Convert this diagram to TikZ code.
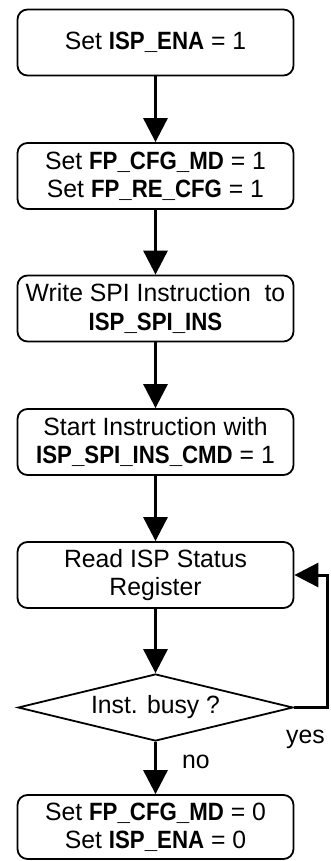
\documentclass[tikz,border=0pt]{standalone}
\usepackage{fontspec}
\setmainfont{Liberation Sans}[FakeStretch=0.99,BoldFeatures={FakeStretch=0.89}]
\usetikzlibrary{arrows.meta,shapes.geometric}
\begin{document}
\begin{tikzpicture}[x=1pt,y=1pt,
  box/.style={draw,line width=1.8pt,rounded corners=10pt,minimum width=276pt,minimum height=66pt,
    align=center,inner sep=0pt,font=\fontsize{25}{28.3}\selectfont},
  dec/.style={draw,line width=1.8pt,shape=diamond,aspect=4.1,minimum width=275pt,minimum height=67pt,
    inner sep=0pt,font=\fontsize{25}{28.3}\selectfont},
  conn/.style={line width=3pt,-{Triangle[length=24pt,width=24pt]}},
  lbl/.style={font=\fontsize{25}{28.3}\selectfont,inner sep=0pt}]
\useasboundingbox (0,0) rectangle (330,-861);
\node[box] (b1) at (155.5,-42.5) {Set \textbf{ISP\_ENA} = 1};
\node[box] (b2) at (155.5,-176) {Set \textbf{FP\_CFG\_MD} = 1\\Set \textbf{FP\_RE\_CFG} = 1};
\node[box] (b3) at (155.5,-308.5) {Write SPI Instruction\ \ to\\\textbf{ISP\_SPI\_INS}};
\node[box] (b4) at (155.5,-442) {Start Instruction with\\\textbf{ISP\_SPI\_INS\_CMD} = 1};
\node[box] (b5) at (155.5,-575) {Read ISP Status\\Register};
\node[dec] (d) at (155.5,-707.5) {Inst. busy ?};
\node[box,minimum height=64pt] (b6) at (155.5,-827) {Set \textbf{FP\_CFG\_MD} = 0\\Set \textbf{ISP\_ENA} = 0};
\coordinate (c1) at (327,-707.5);
\coordinate (c2) at (327,-575);
\draw[conn] (b1) -- (b2);
\draw[conn] (b2) -- (b3);
\draw[conn] (b3) -- (b4);
\draw[conn] (b4) -- (b5);
\draw[conn] (b5) -- (d);
\draw[conn] (d) -- (b6);
\draw[conn,line join=miter] (d.east) -- (c1) -- (c2) -- (b5.east);
\node[lbl,anchor=base] (yes) at (305.5,-743) {yes};
\node[lbl,anchor=base] (no) at (196,-768) {no};
\end{tikzpicture}
\end{document}
